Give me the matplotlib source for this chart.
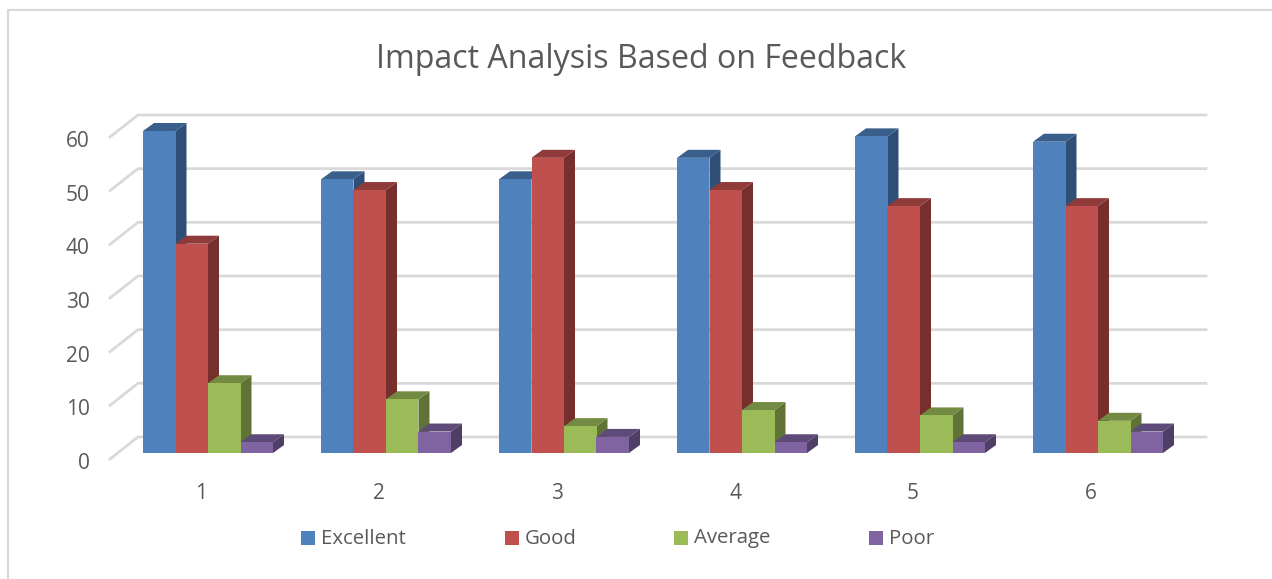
import matplotlib
matplotlib.use("Agg")
import matplotlib.pyplot as plt
from matplotlib.patches import Polygon, Rectangle
from matplotlib.transforms import Affine2D
from matplotlib.lines import Line2D

categories = [1, 2, 3, 4, 5, 6]
series_names = ["Excellent", "Good", "Average", "Poor"]
excellent = [60, 51, 51, 55, 59, 58]
good = [39, 49, 55, 49, 46, 46]
average = [13, 10, 5, 8, 7, 6]
poor = [2, 4, 3, 2, 2, 4]
y_ticks = [0, 10, 20, 30, 40, 50, 60]
title = "Impact Analysis Based on Feedback"
series_values = [excellent, good, average, poor]
front_colors = ["#4F81BD", "#C0504D", "#9BBB59", "#8064A2"]
top_colors = ["#3A5F8C", "#8E3B39", "#728A42", "#5E4A78"]
side_colors = ["#2F4F77", "#772F2E", "#5F7337", "#4F3E65"]

W, H = 1272, 579
plt.rcParams['font.family'] = ['Open Sans', 'DejaVu Sans']
fig = plt.figure(figsize=(W / 100, H / 100), dpi=100)
L, R, B, T = 110, 1178, 459, 137
ax = fig.add_axes([L / W, 1 - B / H, (R - L) / W, (B - T) / H])
ax.set_xlim(0.5, 6.5)
ax.set_ylim(0, 60)
for s in ax.spines.values():
    s.set_visible(False)
ax.patch.set_alpha(0)
ax.set_xticks(categories)
ax.set_yticks(y_ticks)
ax.tick_params(length=0, labelsize=15, labelcolor="#595959")
ax.tick_params(axis="y", pad=14.5)
ax.tick_params(axis="x", pad=17)
fig.canvas.draw()
for lab in ax.get_yticklabels():
    lab.set_transform(lab.get_transform() + Affine2D().translate(0, -2))
for lab in ax.get_xticklabels():
    lab.set_transform(lab.get_transform() + Affine2D().translate(2, 0))
px = (R - L) / 6
py = (B - T) / 60
GRID = "#D9D9D9"
# floor-to-wall grid: front tick to back plane
bdx, bdy = 28 / px, 22 / py
for v in y_ticks:
    ax.plot([0.5, 0.5 + bdx, 6.5 + bdx], [v, v + bdy, v + bdy], color=GRID, lw=2.0,
            clip_on=False, zorder=1, solid_joinstyle="miter")
# bars
bw = 32.5 / px
ox, oy = 9 / px, 6 / py
ddx, ddy = 11 / px, 8 / py
for c_i, c in enumerate(categories):
    for s_i, vals in enumerate(series_values):
        v = vals[c_i]
        x0 = c + ox + (s_i - 2) * bw
        x1 = x0 + bw
        y0 = oy
        y1 = oy + v
        z = 3 + s_i * 0.1
        ax.add_patch(Polygon([(x1, y0), (x1 + ddx, y0 + ddy), (x1 + ddx, y1 + ddy), (x1, y1)],
                             closed=True, fc=side_colors[s_i], ec="none", clip_on=False, zorder=z))
        ax.add_patch(Polygon([(x0, y1), (x0 + ddx, y1 + ddy), (x1 + ddx, y1 + ddy), (x1, y1)],
                             closed=True, fc=top_colors[s_i], ec="none", clip_on=False, zorder=z))
        ax.bar(x0, v, width=bw, bottom=y0, align="edge", color=front_colors[s_i], clip_on=False, zorder=z + 0.05)
# title
fig.text(641.5 / W, 1 - 59.5 / H, title, ha="center", va="center", fontsize=23.15, color="#595959")
# legend
leg_x = [301, 505, 674, 869]
for x, name, col in zip(leg_x, series_names, front_colors):
    fig.patches.append(Rectangle((x / W, 1 - 545 / H), 14 / W, 14 / H, transform=fig.transFigure, fc=col, ec="none"))
    fig.text((x + 20) / W, 1 - 538.5 / H, name, ha="left", va="center", fontsize=14.7, color="#595959")
# frame
fig.add_artist(Line2D([8 / W, 8 / W, 1], [0, 1 - 10 / H, 1 - 10 / H], color="#D9D9D9", lw=1.6,
                      transform=fig.transFigure))
fig.savefig("out.png", dpi=100)
